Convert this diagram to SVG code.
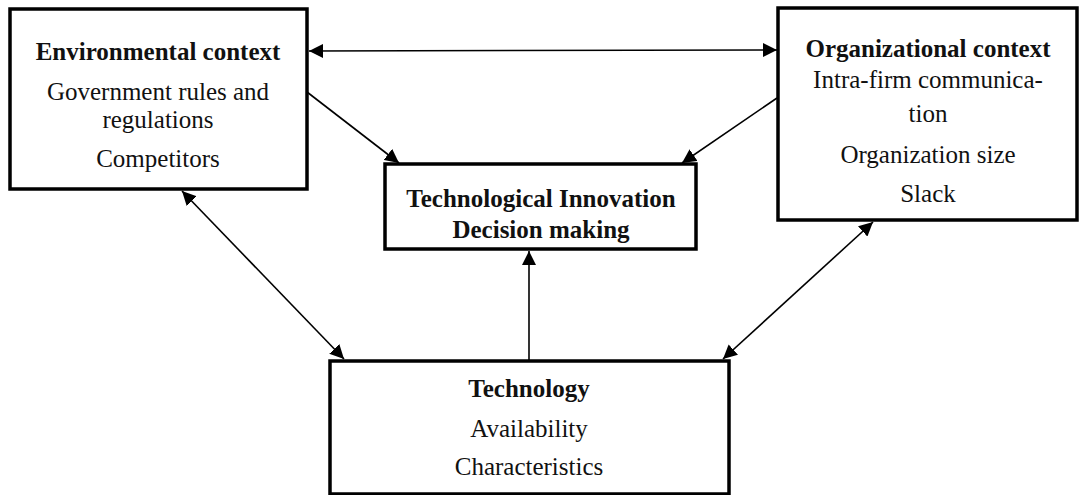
<svg xmlns="http://www.w3.org/2000/svg" width="1079" height="495" viewBox="0 0 1079 495">
<defs>
<style>
.box{fill:#fff;stroke:#000;stroke-width:3.5}
.t{font-family:"Liberation Serif","Times New Roman",serif;font-size:25px;fill:#111;text-anchor:middle}
.b{font-weight:bold}
.c{stroke:#000;stroke-width:1.6;fill:none;marker-end:url(#ah)}
.d{marker-start:url(#ahs)}
</style>
<marker id="ah" viewBox="0 0 10 10" refX="10" refY="5" markerWidth="14" markerHeight="14" markerUnits="userSpaceOnUse" orient="auto"><path d="M0,0 L10,5 L0,10 z" fill="#000"/></marker>
<marker id="ahs" viewBox="0 0 10 10" refX="0" refY="5" markerWidth="14" markerHeight="14" markerUnits="userSpaceOnUse" orient="auto"><path d="M10,0 L0,5 L10,10 z" fill="#000"/></marker>
</defs>
<rect width="1079" height="495" fill="#fff"/>
<g id="env">
<rect class="box" x="10" y="9" width="297" height="180"/>
<text class="t b" x="158" y="60">Environmental context</text>
<text class="t" x="158" y="100">Government rules and</text>
<text class="t" x="158" y="128">regulations</text>
<text class="t" x="158" y="167">Competitors</text>
</g>
<g id="org">
<rect class="box" x="778" y="8" width="299" height="212"/>
<text class="t b" x="928" y="57">Organizational context</text>
<text class="t" x="928" y="88">Intra-firm communica-</text>
<text class="t" x="928" y="122">tion</text>
<text class="t" x="928" y="163">Organization size</text>
<text class="t" x="928" y="202">Slack</text>
</g>
<g id="tidm">
<rect class="box" x="385" y="164" width="311" height="85"/>
<text class="t b" x="541" y="207">Technological Innovation</text>
<text class="t b" x="541" y="238">Decision making</text>
</g>
<g id="tech">
<rect class="box" x="330" y="361" width="399" height="133"/>
<text class="t b" x="529" y="397">Technology</text>
<text class="t" x="529" y="437">Availability</text>
<text class="t" x="529" y="475">Characteristics</text>
</g>
<g id="connectors">
<line class="c d" x1="309" y1="51" x2="777" y2="50"/>
<line class="c" x1="307" y1="92" x2="399" y2="163"/>
<line class="c" x1="777" y1="98" x2="682" y2="163"/>
<line class="c d" x1="182" y1="191" x2="344" y2="359"/>
<line class="c d" x1="873" y1="222" x2="723" y2="359"/>
<line class="c" x1="529" y1="361" x2="529" y2="251"/>
</g>
</svg>
